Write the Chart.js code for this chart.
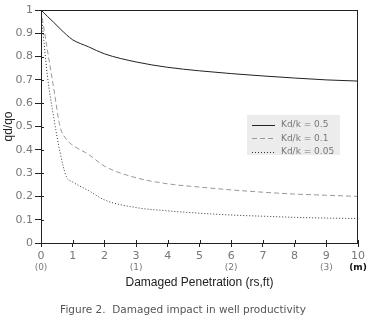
<!DOCTYPE html>
<html>
<head>
<meta charset="utf-8">
<script src="https://cdn.jsdelivr.net/npm/chart.js@4/dist/chart.umd.min.js"></script>
<style>
  html, body { margin: 0; padding: 0; background: #fff; }
  #wrap { width: 370px; height: 323px; position: relative; }
</style>
</head>
<body>
<div id="wrap"><canvas id="chart"></canvas></div>
<script>
// damaged penetration (rs, ft)
var xs = [0, 0.2, 0.4, 0.6, 0.8, 1, 1.5, 2, 3, 4, 5, 6, 7, 8, 9, 10];
// qd/qo for each Kd/k
var kd05 = [1, 0.973, 0.947, 0.92, 0.894, 0.872, 0.842, 0.812, 0.777, 0.754, 0.739, 0.727, 0.717, 0.708, 0.70, 0.695];
var kd01 = [1, 0.83, 0.665, 0.50, 0.445, 0.42, 0.38, 0.33, 0.28, 0.254, 0.24, 0.228, 0.218, 0.21, 0.205, 0.20];
var kd005 = [1, 0.72, 0.54, 0.39, 0.285, 0.262, 0.225, 0.185, 0.152, 0.138, 0.128, 0.12, 0.115, 0.11, 0.107, 0.105];
var seriesLabels = ['Kd/k = 0.5', 'Kd/k = 0.1', 'Kd/k = 0.05'];
// metre equivalents under the feet ticks
var meterTicks = [0, 3, 6, 9, 10];
var meterLabels = ['(0)', '(1)', '(2)', '(3)', '(m)'];
var caption = 'Figure 2.  Damaged impact in well productivity';

function pts(ys) {
    return xs.map(function(x, i) { return { x: x, y: ys[i] }; });
}

var extras = {
    id: 'extras',
    afterDraw: function(chart) {
        var ctx = chart.ctx;
        var a = chart.chartArea;
        var xs_ = chart.scales.x, ys_ = chart.scales.y;
        ctx.save();
        // frame round the plot
        ctx.strokeStyle = '#222';
        ctx.lineWidth = 1;
        ctx.strokeRect(a.left + 0.5, a.top + 0.5, a.right - a.left - 1, a.bottom - a.top);
        // inner tick stubs
        ctx.beginPath();
        ys_.ticks.forEach(function(t) {
            var py = Math.round(ys_.getPixelForValue(t.value)) + 0.5;
            ctx.moveTo(a.left, py); ctx.lineTo(a.left + 3, py);
        });
        xs_.ticks.forEach(function(t) {
            var px = Math.round(xs_.getPixelForValue(t.value)) + 0.5;
            ctx.moveTo(px, a.bottom); ctx.lineTo(px, a.bottom - 3);
        });
        ctx.stroke();
        // metre labels
        ctx.textAlign = 'center';
        ctx.textBaseline = 'middle';
        meterTicks.forEach(function(v, i) {
            var last = meterLabels[i] === '(m)';
            ctx.fillStyle = last ? '#111' : '#777';
            ctx.font = (last ? 'bold ' : '') + '9px "DejaVu Sans"';
            ctx.fillText(meterLabels[i], xs_.getPixelForValue(v), 268);
        });
        // caption
        ctx.fillStyle = '#555';
        ctx.font = '10.5px "DejaVu Sans"';
        ctx.fillText(caption, 183, 310);
        // legend box
        var bx = 247, by = 115, bw = 93, bh = 40;
        ctx.fillStyle = '#ececec';
        ctx.fillRect(bx, by, bw, bh);
        chart.data.datasets.forEach(function(ds, i) {
            var ly = by + 10 + i * 13.3;
            ctx.strokeStyle = ds.borderColor;
            ctx.lineWidth = 1;
            ctx.setLineDash(ds.borderDash || []);
            ctx.beginPath();
            ctx.moveTo(bx + 5, Math.round(ly) + 0.5);
            ctx.lineTo(bx + 28, Math.round(ly) + 0.5);
            ctx.stroke();
            ctx.setLineDash([]);
            ctx.fillStyle = '#777';
            ctx.font = '9px "DejaVu Sans"';
            ctx.textAlign = 'left';
            ctx.fillText(ds.label, bx + 34, ly);
        });
        ctx.restore();
    }
};

var chart = new Chart(document.getElementById('chart'), {
    type: 'line',
    data: {
        datasets: [
            { label: seriesLabels[0], data: pts(kd05), borderColor: '#222', borderWidth: 1, pointRadius: 0, cubicInterpolationMode: 'monotone' },
            { label: seriesLabels[1], data: pts(kd01), borderColor: '#999', borderWidth: 1, borderDash: [5, 3], pointRadius: 0, cubicInterpolationMode: 'monotone' },
            { label: seriesLabels[2], data: pts(kd005), borderColor: '#333', borderWidth: 1, borderDash: [1, 2], pointRadius: 0, cubicInterpolationMode: 'monotone' }
        ]
    },
    options: {
        responsive: true,
        maintainAspectRatio: false,
        animation: false,
        layout: { padding: { top: 10, right: 12, bottom: 0, left: 0 } },
        plugins: { legend: { display: false }, tooltip: { enabled: false } },
        scales: {
            x: {
                type: 'linear', min: 0, max: 10,
                ticks: { stepSize: 1, color: '#777', padding: 3, font: { family: 'DejaVu Sans', size: 11 }, maxRotation: 0 },
                grid: { drawOnChartArea: false, tickLength: 4, color: '#222' },
                border: { color: '#222' },
                title: { display: true, text: 'Damaged Penetration (rs,ft)', color: '#222', font: { family: 'Liberation Sans', size: 12 }, padding: { top: 0, bottom: 33 } },
                afterFit: function(s) { s.height = 80; }
            },
            y: {
                min: 0, max: 1,
                ticks: {
                    stepSize: 0.1, color: '#777', padding: 2, font: { family: 'DejaVu Sans', size: 11 },
                    callback: function(v) { return String(Math.round(v * 10) / 10); }
                },
                grid: { drawOnChartArea: false, tickLength: 6, color: '#222' },
                border: { color: '#222' },
                title: { display: true, text: 'qd/qo', color: '#222', font: { family: 'Liberation Sans', size: 12 }, padding: { top: 1, bottom: 0 } },
                afterFit: function(s) { s.width = 41; }
            }
        }
    },
    plugins: [extras]
});
</script>
</body>
</html>
